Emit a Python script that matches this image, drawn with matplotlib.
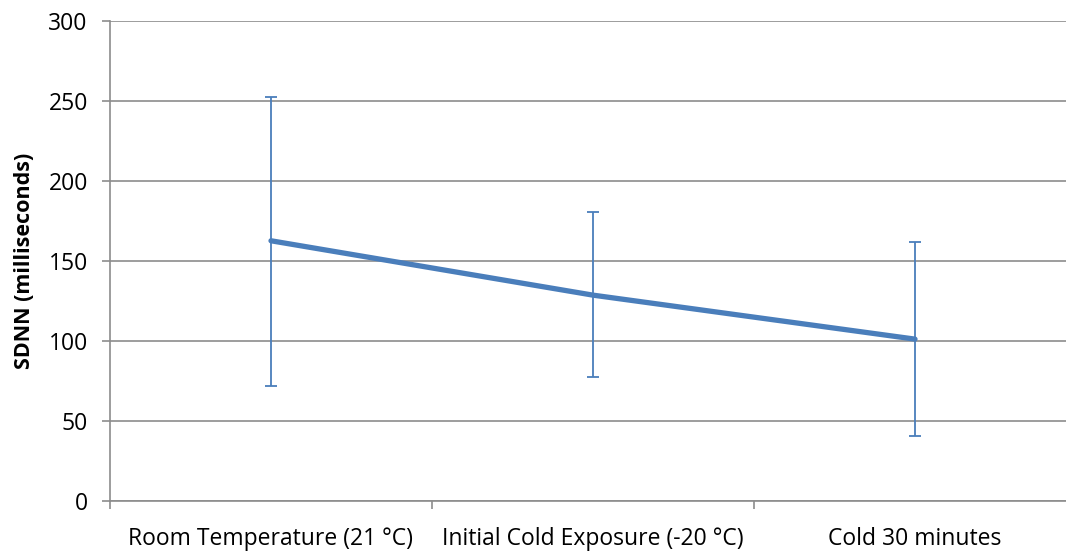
import matplotlib
matplotlib.use("Agg")
import matplotlib.pyplot as plt
import numpy as np

# SDNN means and standard deviations per condition
conditions = ["Room Temperature (21 °C)", "Initial Cold Exposure (-20 °C)", "Cold 30 minutes"]
sdnn_mean = [162.4, 128.4, 100.9]
sdnn_err_up = [90.2, 51.7, 60.9]
sdnn_err_down = [90.8, 51.0, 60.8]
y_ticks = [0, 50, 100, 150, 200, 250, 300]

blue = "#4A7EBB"
grey = "#8C8C8C"

plt.rcParams["font.family"] = ["Open Sans", "DejaVu Sans"]

fig = plt.figure(figsize=(10.66, 5.51), dpi=100)
# right edge of the plot runs past the figure border
ax = fig.add_axes([110 / 1066, 50.5 / 551, 966 / 1066, 479.8 / 551])

x = np.arange(len(conditions))
ax.errorbar(x, sdnn_mean, yerr=[sdnn_err_down, sdnn_err_up], fmt="none",
            ecolor=blue, elinewidth=1.3, capsize=4, capthick=1.3, zorder=3)
ax.plot(x, sdnn_mean, color=blue, linewidth=3.8, solid_capstyle="round", zorder=4)

ax.set_xlim(-0.5, len(conditions) - 0.5)
ax.set_ylim(0, 300)
ax.set_yticks(y_ticks)
ax.yaxis.grid(True, color=grey, linewidth=1.2)
ax.set_axisbelow(True)

for side in ["top", "right"]:
    ax.spines[side].set_visible(False)
for side in ["left", "bottom"]:
    ax.spines[side].set_color(grey)
    ax.spines[side].set_linewidth(1.2)

ax.set_xticks(x)
ax.set_xticklabels(conditions, fontsize=16.5)
ax.set_xticks(np.arange(-0.5, len(conditions), 1.0), minor=True)
ax.tick_params(axis="x", which="major", length=0, pad=19)
ax.tick_params(axis="x", which="minor", length=6, width=1.2, color=grey)
ax.tick_params(axis="y", length=6, width=1.2, color=grey, labelsize=16.5, pad=10)

ax.set_ylabel("SDNN (milliseconds)", fontsize=15.5, fontweight="bold", labelpad=10)

fig.savefig("out.png", dpi=100)
